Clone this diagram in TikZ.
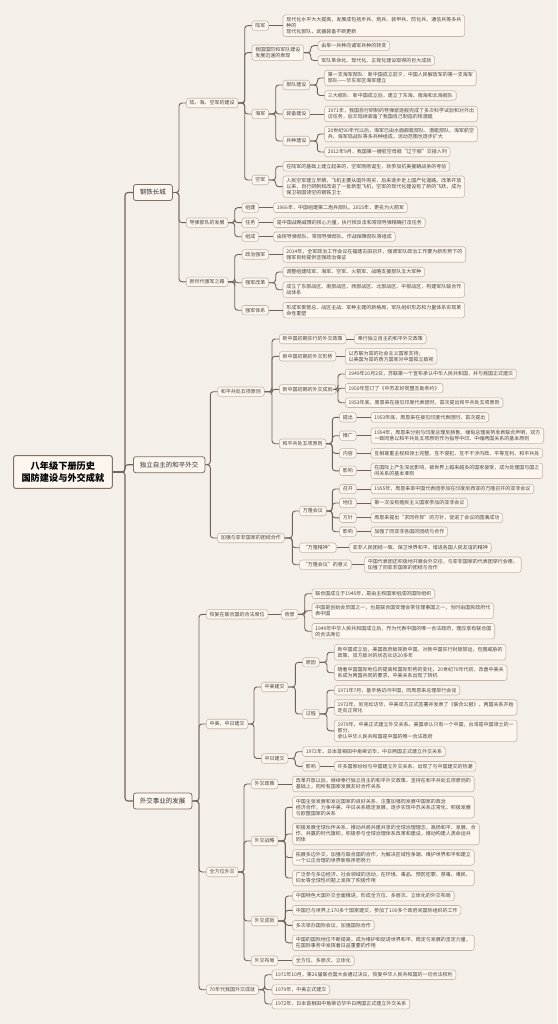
\documentclass[tikz,border=0pt]{standalone}
\usepackage{fontspec}
\usepackage{tikz}
\usetikzlibrary{positioning,calc}
\newfontfamily\cjk{Noto Sans CJK SC}
\definecolor{paper}{HTML}{F4EFE9}
\definecolor{boxFill}{HTML}{FCF6EF}
\definecolor{boxLine}{HTML}{C6B6A7}
\definecolor{topicLine}{HTML}{7E7067}
\definecolor{linkLine}{HTML}{6F625A}
\definecolor{inkGray}{HTML}{4A4440}

\begin{document}
\begin{tikzpicture}[x=1pt,y=-1pt,
  leaf/.style={draw=boxLine,fill=boxFill,rounded corners=2.5pt,line width=0.6pt,
    font=\cjk\fontsize{5}{6}\selectfont,text=inkGray,inner xsep=3.3pt,inner ysep=2.4pt,
    align=left,anchor=west},
  topic/.style={leaf,draw=topicLine,line width=0.8pt,font=\cjk\fontsize{6.5}{8}\selectfont,
    text=black!80,inner xsep=6.5pt,inner ysep=5pt},
  rootbox/.style={leaf,draw=topicLine,line width=1pt,font=\cjk\bfseries\fontsize{9.2}{12}\selectfont,
    text=black,align=center,inner xsep=8pt,inner ysep=6pt},
  link/.style={draw=linkLine,line width=0.9pt,rounded corners=3pt}]
  \fill[paper] (0,0) rectangle (557,1024);
  \useasboundingbox (0,0) rectangle (557,1024);

  \node[rootbox] (root) at (13,472) {八年级下册历史\\国防建设与外交成就};
  \node[topic] (gtcc) at (133,192.5) {钢铁长城};
  \node[topic] (dlzz) at (133,464.7) {独立自主的和平外交};
  \node[topic] (wjsy) at (133,801) {外交事业的发展};
  \foreach \c in {gtcc,dlzz,wjsy} \draw[link,line width=1.1pt] (root.east) -| ([xshift=-8pt]\c.west) -- (\c.west);

  \node[leaf] (lhk) at (186,103) {陆、海、空军的建设};
  \node[leaf] (ddb) at (186,222.7) {导弹部队的发展};
  \node[leaf] (xsd) at (186,281.8) {新时代强军之路};
  \foreach \c in {lhk,ddb,xsd} \draw[link] (gtcc.east) -| ([xshift=-7pt]\c.west) -- (\c.west);

  \node[leaf] (luj) at (251.7,25.7) {陆军};
  \node[leaf] (bxian) at (251.7,52.7) {我国国防和军队建设\\发展迅速的表现};
  \node[leaf] (haij) at (251.7,114) {海军};
  \node[leaf] (kongj) at (251.7,180) {空军};
  \foreach \c in {luj,bxian,haij,kongj} \draw[link] (lhk.east) -| ([xshift=-7pt]\c.west) -- (\c.west);

  \node[leaf] (luj1) at (282.7,25.7) {现代化水平大大提高，发展成包括步兵、炮兵、装甲兵、防化兵、通信兵等多兵\\种的\\现代化部队，武器装备不断更新};
  \draw[link] (luj.east) -- (luj1.west);
  \node[leaf] (bxian1) at (317.7,45.7) {由单一兵种向诸军兵种的转变};
  \node[leaf] (bxian2) at (317.7,60.5) {军队革命化、现代化、正规化建设取得的巨大成就};
  \foreach \c in {bxian1,bxian2} \draw[link] (bxian.east) -| ([xshift=-7pt]\c.west) -- (\c.west);

  \node[leaf] (bdjs) at (282.7,85) {部队建设};
  \node[leaf] (zbjs) at (282.7,114) {装备建设};
  \node[leaf] (bzjs) at (282.7,141) {兵种建设};
  \foreach \c in {bdjs,zbjs,bzjs} \draw[link] (haij.east) -| ([xshift=-7pt]\c.west) -- (\c.west);
  \node[leaf] (bdjs1) at (324.3,78) {第一支海军部队：新中国成立前夕，中国人民解放军的第一支海军\\部队——华东军区海军建立};
  \node[leaf] (bdjs2) at (324.3,95.5) {三大舰队：新中国成立后，建立了东海、南海和北海舰队};
  \foreach \c in {bdjs1,bdjs2} \draw[link] (bdjs.east) -| ([xshift=-7pt]\c.west) -- (\c.west);
  \node[leaf] (zbjs1) at (324.3,114) {1971年，我国自行研制的导弹驱逐舰完成了多次科学试验和对外出\\访任务，后又陆续装备了我国自己制造的核潜艇};
  \draw[link] (zbjs.east) -- (zbjs1.west);
  \node[leaf] (bzjs1) at (324.3,134) {20世纪90年代以后，海军已由水面舰艇部队、潜艇部队、海军航空\\兵、海军陆战队等多兵种组成，活动范围也逐步扩大};
  \node[leaf] (bzjs2) at (324.3,152) {2012年9月，我国第一艘航空母舰“辽宁舰”交接入列};
  \foreach \c in {bzjs1,bzjs2} \draw[link] (bzjs.east) -| ([xshift=-7pt]\c.west) -- (\c.west);

  \node[leaf] (kongj1) at (282.7,166.3) {在陆军的基础上建立起来的，空军刚刚诞生，就参加抗美援朝战争的考验};
  \node[leaf] (kongj2) at (282.7,186.7) {人民空军建立早期，飞机主要从国外购买，后来逐步走上国产化道路。改革开放\\以来，自行研制和改进了一批新型飞机，空军的现代化建设有了新的飞跃，成为\\保卫祖国领空的钢铁卫士};
  \foreach \c in {kongj1,kongj2} \draw[link] (kongj.east) -| ([xshift=-7pt]\c.west) -- (\c.west);

  \node[leaf] (zujian) at (241.7,207.7) {组建};
  \node[leaf] (renwu) at (241.7,222.7) {任务};
  \node[leaf] (zucheng) at (241.7,236.7) {组成};
  \foreach \c in {zujian,renwu,zucheng} \draw[link] (ddb.east) -| ([xshift=-7pt]\c.west) -- (\c.west);
  \node[leaf] (zujian1) at (273.3,207.7) {1966年，中国组建第二炮兵部队。2015年，更名为火箭军};
  \node[leaf] (renwu1) at (273.3,222.7) {是中国战略威慑的核心力量，执行核反击和常规导弹精确打击任务};
  \node[leaf] (zucheng1) at (273.3,236.7) {由核导弹部队、常规导弹部队、作战保障部队等组成};
  \draw[link] (zujian.east) -- (zujian1.west);
  \draw[link] (renwu.east) -- (renwu1.west);
  \draw[link] (zucheng.east) -- (zucheng1.west);

  \node[leaf] (zzqj) at (241.7,254.5) {政治强军};
  \node[leaf] (qjgg) at (241.7,282.7) {强军改革};
  \node[leaf] (qjtx) at (241.7,310.2) {强军体系};
  \foreach \c in {zzqj,qjgg,qjtx} \draw[link] (xsd.east) -| ([xshift=-7pt]\c.west) -- (\c.west);
  \node[leaf] (zzqj1) at (282.7,254.5) {2014年，全军政治工作会议在福建古田召开，强调军队政治工作要为新形势下的\\强军目标提供坚强政治保证};
  \draw[link] (zzqj.east) -- (zzqj1.west);
  \node[leaf] (qjgg1) at (282.7,272) {调整组建陆军、海军、空军、火箭军、战略支援部队五大军种};
  \node[leaf] (qjgg2) at (282.7,289.7) {成立了东部战区、南部战区、西部战区、北部战区、中部战区，构建军队联合作\\战体系};
  \foreach \c in {qjgg1,qjgg2} \draw[link] (qjgg.east) -| ([xshift=-7pt]\c.west) -- (\c.west);
  \node[leaf] (qjtx1) at (282.7,310.2) {形成军委管总、战区主战、军种主建的新格局，军队组织形态和力量体系实现革\\命性重塑};
  \draw[link] (qjtx.east) -- (qjtx1.west);

  \node[leaf] (hpgc) at (217.3,391.7) {和平共处五项原则};
  \node[leaf] (jqyf) at (217.3,538) {加强与亚非国家的团结合作};
  \foreach \c in {hpgc,jqyf} \draw[link] (dlzz.east) -| ([xshift=-7pt]\c.west) -- (\c.west);

  \node[leaf] (wjzc) at (279,339) {新中国初期实行的外交政策};
  \node[leaf] (wjxs) at (279,356.3) {新中国初期的外交形势};
  \node[leaf] (wjcj) at (279,389.3) {新中国初期的外交成就};
  \node[leaf] (hpgc2) at (279,443.7) {和平共处五项原则};
  \foreach \c in {wjzc,wjxs,wjcj,hpgc2} \draw[link] (hpgc.east) -| ([xshift=-7pt]\c.west) -- (\c.west);
  \node[leaf] (wjzc1) at (354.3,339) {奉行独立自主的和平外交政策};
  \draw[link] (wjzc.east) -- (wjzc1.west);
  \node[leaf] (wjxs1) at (345,356.3) {以苏联为首的社会主义国家支持；\\以美国为首的西方国家对中国孤立敌视};
  \draw[link] (wjxs.east) -- (wjxs1.west);
  \node[leaf] (wjcj1) at (345,374) {1949年10月2日，苏联第一个宣布承认中华人民共和国，并与我国正式建交};
  \node[leaf] (wjcj2) at (345,388.2) {1950年签订了《中苏友好同盟互助条约》};
  \node[leaf] (wjcj3) at (345,402.7) {1953年底，周恩来在接见印度代表团时，首次提出和平共处五项原则};
  \foreach \c in {wjcj1,wjcj2,wjcj3} \draw[link] (wjcj.east) -| ([xshift=-7pt]\c.west) -- (\c.west);

  \node[leaf] (tichu) at (339.3,417.3) {提出};
  \node[leaf] (tuiguang) at (339.3,435.7) {推广};
  \node[leaf] (neirong) at (339.3,453.3) {内容};
  \node[leaf] (yxa) at (339.3,470.8) {影响};
  \foreach \c in {tichu,tuiguang,neirong,yxa} \draw[link] (hpgc2.east) -| ([xshift=-7pt]\c.west) -- (\c.west);
  \node[leaf] (tichu1) at (370.7,417.3) {1953年底，周恩来在接见印度代表团时，首次提出};
  \node[leaf] (tuiguang1) at (370.7,435.7) {1954年，周恩来分别与印度总理尼赫鲁、缅甸总理吴努发表联合声明，双方\\一致同意以和平共处五项原则作为指导中印、中缅两国关系的基本原则};
  \node[leaf] (neirong1) at (370.7,453.3) {互相尊重主权和领土完整、互不侵犯、互不干涉内政、平等互利、和平共处};
  \node[leaf] (yxa1) at (370.7,470.8) {在国际上产生深远影响，被世界上越来越多的国家接受，成为处理国与国之\\间关系的基本准则};
  \foreach \p/\c in {tichu/tichu1,tuiguang/tuiguang1,neirong/neirong1,yxa/yxa1} \draw[link] (\p.east) -- (\c.west);

  \node[leaf] (wlhy) at (299.3,511) {万隆会议};
  \node[leaf] (wljs) at (299.3,547.7) {“万隆精神”};
  \node[leaf] (wlyy) at (299.3,564.7) {“万隆会议”的意义};
  \foreach \c in {wlhy,wljs,wlyy} \draw[link] (jqyf.east) -| ([xshift=-7pt]\c.west) -- (\c.west);
  \node[leaf] (zhaokai) at (339.3,489) {召开};
  \node[leaf] (diwei) at (339.3,503) {地位};
  \node[leaf] (fangzhen) at (339.3,517.8) {方针};
  \node[leaf] (yxb) at (339.3,531.7) {影响};
  \foreach \c in {zhaokai,diwei,fangzhen,yxb} \draw[link] (wlhy.east) -| ([xshift=-7pt]\c.west) -- (\c.west);
  \node[leaf] (zhaokai1) at (370.7,489) {1955年，周恩来率中国代表团参加在印度尼西亚的万隆召开的亚非会议};
  \node[leaf] (diwei1) at (370.7,503) {第一次没有殖民主义国家参加的亚非会议};
  \node[leaf] (fangzhen1) at (370.7,517.8) {周恩来提出“求同存异”的方针，促进了会议的圆满成功};
  \node[leaf] (yxb1) at (370.7,531.7) {加强了同亚非各国的团结与合作};
  \foreach \p/\c in {zhaokai/zhaokai1,diwei/diwei1,fangzhen/fangzhen1,yxb/yxb1} \draw[link] (\p.east) -- (\c.west);
  \node[leaf] (wljs1) at (349.3,547.7) {亚非人民团结一致、保卫世界和平、增进各国人民友谊的精神};
  \draw[link] (wljs.east) -- (wljs1.west);
  \node[leaf] (wlyy1) at (364.3,564.7) {中国代表团还积极地开展会外交往，与亚非国家的代表团举行会晤，\\加强了同亚非国家的团结与合作};
  \draw[link] (wlyy.east) -- (wlyy1.west);

  \node[leaf] (hfxw) at (206,614.3) {恢复在联合国的合法席位};
  \node[leaf] (zmzr) at (206,724) {中美、中日建交};
  \node[leaf] (qfwj) at (206,872) {全方位外交};
  \node[leaf] (qsnd) at (206,989.7) {70年代我国外交成就};
  \foreach \c in {hfxw,zmzr,qfwj,qsnd} \draw[link] (wjsy.east) -| ([xshift=-7pt]\c.west) -- (\c.west);

  \node[leaf] (beijing) at (281,614.3) {背景};
  \draw[link] (hfxw.east) -- (beijing.west);
  \node[leaf] (beijing1) at (311.7,593.7) {联合国成立于1945年，是由主权国家组成的国际组织};
  \node[leaf] (beijing2) at (311.7,610.7) {中国是创始会员国之一，也是联合国安理会常任理事国之一，当时由国民政府代\\表中国};
  \node[leaf] (beijing3) at (311.7,631.2) {1949年中华人民共和国成立后，作为代表中国的唯一合法政府，理应享有联合国\\的合法席位};
  \foreach \c in {beijing1,beijing2,beijing3} \draw[link] (beijing.east) -| ([xshift=-7pt]\c.west) -- (\c.west);

  \node[leaf] (zmjj) at (261,687) {中美建交};
  \node[leaf] (zrjj) at (261,758.5) {中日建交};
  \foreach \c in {zmjj,zrjj} \draw[link] (zmzr.east) -| ([xshift=-7pt]\c.west) -- (\c.west);
  \node[leaf] (yuanyin) at (302.3,662.3) {原因};
  \node[leaf] (guocheng) at (302.3,714) {过程};
  \foreach \c in {yuanyin,guocheng} \draw[link] (zmjj.east) -| ([xshift=-7pt]\c.west) -- (\c.west);
  \node[leaf] (yuanyin1) at (334,652.2) {新中国成立后，美国政府敌视新中国，对新中国实行封锁禁运，包围威胁的\\政策，双方敌对的状态长达20多年};
  \node[leaf] (yuanyin2) at (334,672.7) {随着中国国际地位的提高和国际形势的变化，20世纪70年代初，改善中美关\\系成为两国共同的要求，中美关系出现了转机};
  \foreach \c in {yuanyin1,yuanyin2} \draw[link] (yuanyin.east) -| ([xshift=-7pt]\c.west) -- (\c.west);
  \node[leaf] (guocheng1) at (334,690.2) {1971年7月，基辛格访问中国，同周恩来总理举行会谈};
  \node[leaf] (guocheng2) at (334,707.5) {1972年，尼克松访华，中美双方正式签署并发表了《联合公报》，两国关系开始\\走向正常化};
  \node[leaf] (guocheng3) at (334,730.8) {1979年，中美正式建立外交关系。美国承认只有一个中国，台湾是中国领土的一\\部分，\\承认中华人民共和国是中国的唯一合法政府};
  \foreach \c in {guocheng1,guocheng2,guocheng3} \draw[link] (guocheng.east) -| ([xshift=-7pt]\c.west) -- (\c.west);
  \node[leaf] (zrjj1) at (302.3,751.7) {1972年，日本首相田中角荣访华，中日两国正式建立外交关系};
  \node[leaf] (yxc) at (302.3,766.3) {影响};
  \foreach \c in {zrjj1,yxc} \draw[link] (zrjj.east) -| ([xshift=-7pt]\c.west) -- (\c.west);
  \node[leaf] (yxc1) at (334,766.3) {许多国家纷纷与中国建立外交关系，出现了与中国建交的热潮};
  \draw[link] (yxc.east) -- (yxc1.west);

  \node[leaf] (wjzc2) at (251,784) {外交政策};
  \node[leaf] (wjzl) at (251,841) {外交战略};
  \node[leaf] (wjcg) at (251,921) {外交成就};
  \node[leaf] (wjbj) at (251,960.7) {外交布局};
  \foreach \c in {wjzc2,wjzl,wjcg,wjbj} \draw[link] (qfwj.east) -| ([xshift=-7pt]\c.west) -- (\c.west);
  \node[leaf] (wjzc21) at (292.3,784) {改革开放以后，继续奉行独立自主的和平外交政策，坚持在和平共处五项原则的\\基础上，同所有国家发展友好合作关系};
  \draw[link] (wjzc2.east) -- (wjzc21.west);
  \node[leaf] (wjzl1) at (292.3,807.3) {中国主张发展和发达国家的良好关系，注重加强同发展中国家的政治\\经济合作，力争中美、中日关系稳定发展，逐步实现中苏关系正常化，积极发展\\与欧盟国家的关系};
  \node[leaf] (wjzl2) at (292.3,834) {积极发展全球伙伴关系，推动共商共建共享的全球治理理念，高扬和平、发展、合\\作、共赢的时代旗帜，积极参与全球治理体系改革和建设，推动构建人类命运共\\同体};
  \node[leaf] (wjzl3) at (292.3,857.5) {拓展多边外交，加强与联合国的合作，为解决区域性争端、维护世界和平和建立\\一个公正合理的世界新秩序而努力};
  \node[leaf] (wjzl4) at (292.3,878) {广泛参与多边经济、社会领域的活动，在环境、毒品、预防犯罪、禁毒、难民、\\妇女等全球性问题上发挥了积极作用};
  \foreach \c in {wjzl1,wjzl2,wjzl3,wjzl4} \draw[link] (wjzl.east) -| ([xshift=-7pt]\c.west) -- (\c.west);
  \node[leaf] (wjcg1) at (292.3,896) {中国特色大国外交全面推进，形成全方位、多层次、立体化的外交布局};
  \node[leaf] (wjcg2) at (292.3,910.3) {中国已与世界上170多个国家建交，参加了100多个政府间国际组织的工作};
  \node[leaf] (wjcg3) at (292.3,925.3) {多次举办国际会议，加强国际合作};
  \node[leaf] (wjcg4) at (292.3,942.8) {中国的国际地位不断提高，成为维护和促进世界和平、稳定与发展的坚定力量，\\在国际事务中发挥着日益重要的作用};
  \foreach \c in {wjcg1,wjcg2,wjcg3,wjcg4} \draw[link] (wjcg.east) -| ([xshift=-7pt]\c.west) -- (\c.west);
  \node[leaf] (wjbj1) at (292.3,960.7) {全方位、多层次、立体化};
  \draw[link] (wjbj.east) -- (wjbj1.west);

  \node[leaf] (qsnd1) at (271.7,974.7) {1971年10月，第26届联合国大会通过决议，恢复中华人民共和国的一切合法权利};
  \node[leaf] (qsnd2) at (271.7,989.7) {1979年，中美正式建交};
  \node[leaf] (qsnd3) at (271.7,1004) {1972年，日本首相田中角荣访华中日两国正式建立外交关系};
  \foreach \c in {qsnd1,qsnd2,qsnd3} \draw[link] (qsnd.east) -| ([xshift=-7pt]\c.west) -- (\c.west);
\end{tikzpicture}
\end{document}
